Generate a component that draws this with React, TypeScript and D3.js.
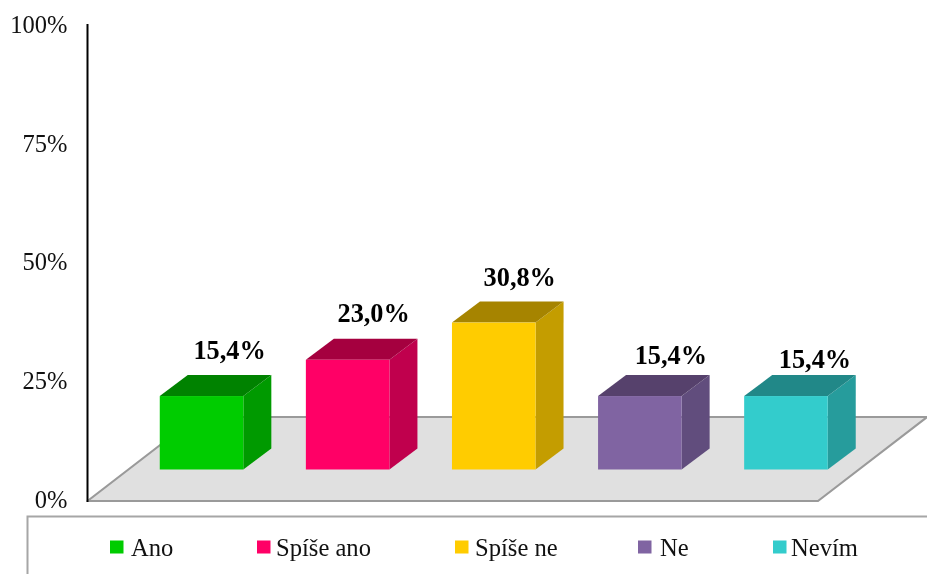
import React from "react";
import * as d3 from "d3";

const categories = ["Ano", "Spíše ano", "Spíše ne", "Ne", "Nevím"];
const values = [15.4, 23.0, 30.8, 15.4, 15.4];
const valueLabels = ["15,4%", "23,0%", "30,8%", "15,4%", "15,4%"];
const ticks = [0, 25, 50, 75, 100];
const frontColors = ["#00cc00", "#ff0066", "#ffcc00", "#8064a2", "#33cccc"];
const sideColors = ["#009a00", "#c0004d", "#c49d00", "#614d7d", "#269c9c"];
const topColors = ["#008200", "#a5003f", "#a68400", "#56416c", "#218888"];

// manual label placement, relative to the bar's top-front centre
const labelDx = [28, 26, 26, 31, 29];
const labelBaselines = [358.5, 322, 285.5, 363.5, 367.5];
const legendMarkerX = [110, 257, 455, 638, 773];
const legendTextX = [131, 276, 475, 660, 791];

const W = 927;
const H = 574;
const axisX = 87.5;
const axisTop = 24;
const axisBottom = 501;
const floorRight = 818;
const floorDx = 109;
const floorDy = 84;
const barDepthX = 41; // bar plane offset on the floor
const barDepthY = 31.5;
const cubeDx = 28;
const cubeDy = 21;

const FONT = "'Liberation Serif', 'Times New Roman', serif";

export default function App() {
  const y = d3.scaleLinear().domain([0, 100]).range([axisBottom, axisTop]);
  const tickY = d3.scaleLinear().domain([0, 100]).range([507.7, 33]);
  const x = d3
    .scaleBand<string>()
    .domain(categories)
    .range([axisX, floorRight])
    .paddingInner(0.428)
    .paddingOuter(0.214);
  const bw = x.bandwidth();
  const floor = d3.line()([
    [axisX, axisBottom],
    [axisX + floorDx, axisBottom - floorDy],
    [W, axisBottom - floorDy],
    [floorRight, axisBottom],
  ]) + "Z";

  return (
    <svg
      width={W}
      height={H}
      viewBox={`0 0 ${W} ${H}`}
      style={{ position: "absolute", left: 0, top: 0, background: "#fff", filter: "blur(0.4px)" }}
      fontFamily={FONT}
    >
      <path d={floor} fill="#e0e0e0" stroke="#9a9a9a" strokeWidth={2.2} strokeLinejoin="round" />
      {categories.map((c, i) => {
        const x0 = (x(c) as number) + barDepthX;
        const x1 = x0 + bw;
        const yb = y(0) - barDepthY;
        const yt = y(values[i]) - barDepthY;
        const side = d3.line()([
          [x1, yb],
          [x1, yt],
          [x1 + cubeDx, yt - cubeDy],
          [x1 + cubeDx, yb - cubeDy],
        ]) + "Z";
        const top = d3.line()([
          [x0, yt],
          [x1, yt],
          [x1 + cubeDx, yt - cubeDy],
          [x0 + cubeDx, yt - cubeDy],
        ]) + "Z";
        return (
          <g key={c}>
            <path d={side} fill={sideColors[i]} />
            <path d={top} fill={topColors[i]} />
            <rect x={x0} y={yt} width={bw} height={yb - yt} fill={frontColors[i]} />
            <text
              x={(x0 + x1) / 2 + labelDx[i]}
              y={labelBaselines[i]}
              textAnchor="middle"
              fontWeight="bold"
              fontSize={26.3}
              fill="#000"
            >
              {valueLabels[i]}
            </text>
          </g>
        );
      })}
      <line x1={axisX} x2={axisX} y1={axisTop} y2={axisBottom + 1} stroke="#000" strokeWidth={2} />
      {ticks.map((t) => (
        <text key={t} x={67.5} y={tickY(t)} textAnchor="end" fontSize={24.5} fill="#111">
          {t}%
        </text>
      ))}
      <path d={`M27.5 ${H}V516.5H${W}`} fill="none" stroke="#a6a6a6" strokeWidth={2} />
      {categories.map((c, i) => (
        <g key={c}>
          <rect x={legendMarkerX[i]} y={540.5} width={13.5} height={13} fill={frontColors[i]} />
          <text x={legendTextX[i]} y={556} fontSize={24.6} fill="#111">
            {c}
          </text>
        </g>
      ))}
    </svg>
  );
}
